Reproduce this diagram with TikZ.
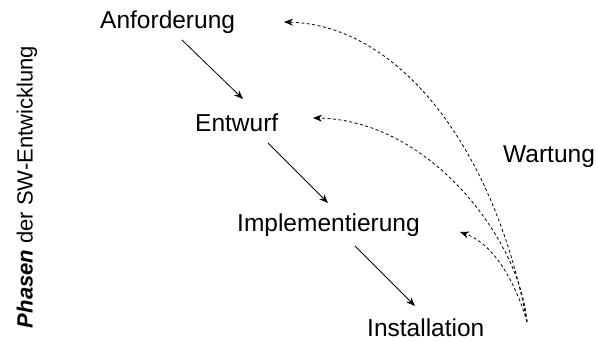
\documentclass[tikz,border=0pt]{standalone}
\usepackage{fontspec}
\setmainfont{Liberation Sans}
\usetikzlibrary{arrows.meta}
\begin{document}
\begin{tikzpicture}[x=1pt,y=-1pt,
  lbl/.style={inner sep=0pt,anchor=base west,font=\fontsize{24.5}{29}\selectfont},
  flow/.style={draw=black,line width=0.8pt,-{Stealth[length=9pt,width=7pt]}},
  maint/.style={draw=black,line width=0.8pt,dash pattern=on 3pt off 2.5pt,-{Stealth[length=9pt,width=7pt]}}]
\useasboundingbox[fill=white] (0,0) rectangle (598,342);
\node[lbl] (anf) at (100,29) {Anforderung};
\node[lbl] (ent) at (195,132) {Entwurf};
\node[lbl] (imp) at (237,232) {Implementierung};
\node[lbl] (ins) at (367,337) {Installation};
\node[lbl] (wart) at (503,163) {Wartung};
\node[inner sep=0pt,rotate=90,font=\fontsize{22}{26}\selectfont] (phasen) at (27,187) {\textbf{\textit{Phasen}} der SW-Entwicklung};
\coordinate (a1) at (182,40);
\coordinate (e1) at (243,99);
\coordinate (a2) at (268,143);
\coordinate (e2) at (328,203);
\coordinate (a3) at (355,246);
\coordinate (e3) at (415,306);
\coordinate (src) at (527,322);
\coordinate (t1) at (284,22);
\coordinate (t2) at (313,118);
\coordinate (t3) at (460,232);
\draw[flow] (a1) -- (e1);
\draw[flow] (a2) -- (e2);
\draw[flow] (a3) -- (e3);
\draw[maint] (src) .. controls (495,150) and (400,25) .. (t1);
\draw[maint] (src) .. controls (520,240) and (430,120) .. (t2);
\draw[maint] (src) .. controls (518,290) and (497,245) .. (t3);
\end{tikzpicture}
\end{document}
